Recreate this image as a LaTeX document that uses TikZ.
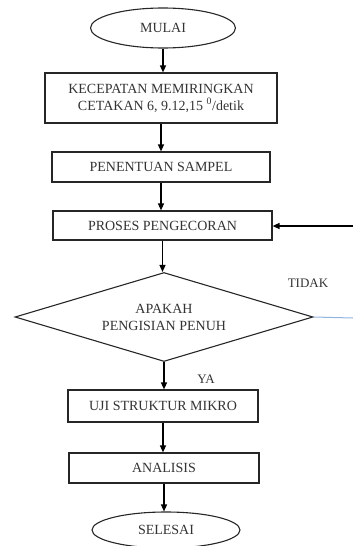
\documentclass[tikz,border=0pt]{standalone}
\usepackage{fontspec}
\setmainfont{Liberation Serif}
\usepackage{tikz}
\usetikzlibrary{arrows.meta, positioning, shapes.geometric, calc}
\usepackage{xcolor}
\definecolor{garis}{HTML}{262626}
\definecolor{teks}{HTML}{333333}
\definecolor{biru}{HTML}{8DB4E2}

\begin{document}
\begin{tikzpicture}[x=1pt, y=-1pt,
    kotak/.style={draw=garis, line width=1.2pt, rectangle, inner sep=0pt, text=teks, align=center, font=\fontsize{14}{17}\selectfont},
    oval/.style={draw=garis, line width=1.1pt, ellipse, inner sep=0pt, text=teks, font=\fontsize{14}{17}\selectfont},
    belah/.style={draw=garis, line width=1.1pt, diamond, aspect=3.35, inner sep=0pt, text=teks, align=center, font=\fontsize{14}{17}\selectfont},
    panah/.style={-{Triangle[length=7pt, width=6pt]}, line width=1.3pt, color=black},
    label/.style={text=teks, font=\fontsize{13}{15}\selectfont}]
    \useasboundingbox (0,0) rectangle (353,546);
    \node[oval, minimum width=145pt, minimum height=40pt] (mulai) at (163,28) {MULAI};
    \node[kotak, minimum width=232pt, minimum height=50pt] (kecepatan) at (161,98) {KECEPATAN MEMIRINGKAN\\CETAKAN 6, 9.12,15 \textsuperscript{0}/detik};
    \node[kotak, minimum width=218pt, minimum height=30pt] (sampel) at (161,167) {PENENTUAN SAMPEL};
    \node[kotak, minimum width=219pt, minimum height=29pt] (cor) at (162.5,225.5) {PROSES PENGECORAN};
    \node[belah, minimum width=298pt, minimum height=89pt] (cek) at (164,317) {APAKAH\\PENGISIAN PENUH};
    \node[kotak, minimum width=190pt, minimum height=32pt] (uji) at (163,406) {UJI STRUKTUR MIKRO};
    \node[kotak, minimum width=190pt, minimum height=30pt] (analisis) at (164,468) {ANALISIS};
    \node[oval, minimum width=148pt, minimum height=36pt] (selesai) at (166,530) {SELESAI};
    \node[label] (tidak) at (308,283) {TIDAK};
    \node[label] (ya) at (206,379) {YA};
    \coordinate (balik) at (353,226);
    \coordinate (ujung) at (353,318);
    \draw[panah] (mulai.south) -- (mulai.south |- kecepatan.north);
    \draw[panah] (kecepatan.south) -- (kecepatan.south |- sampel.north);
    \draw[panah] (sampel.south) -- (sampel.south |- cor.north);
    \draw[panah] (cor.south) -- (cor.south |- cek.north);
    \draw[panah] (cek.south) -- (cek.south |- uji.north);
    \draw[panah] (uji.south) -- (uji.south |- analisis.north);
    \draw[panah] (analisis.south) -- (analisis.south |- selesai.north);
    \draw[panah] (balik) -- (balik -| cor.east);
    \draw[biru, line width=1pt] (cek.east) -- (ujung);
\end{tikzpicture}
\end{document}
